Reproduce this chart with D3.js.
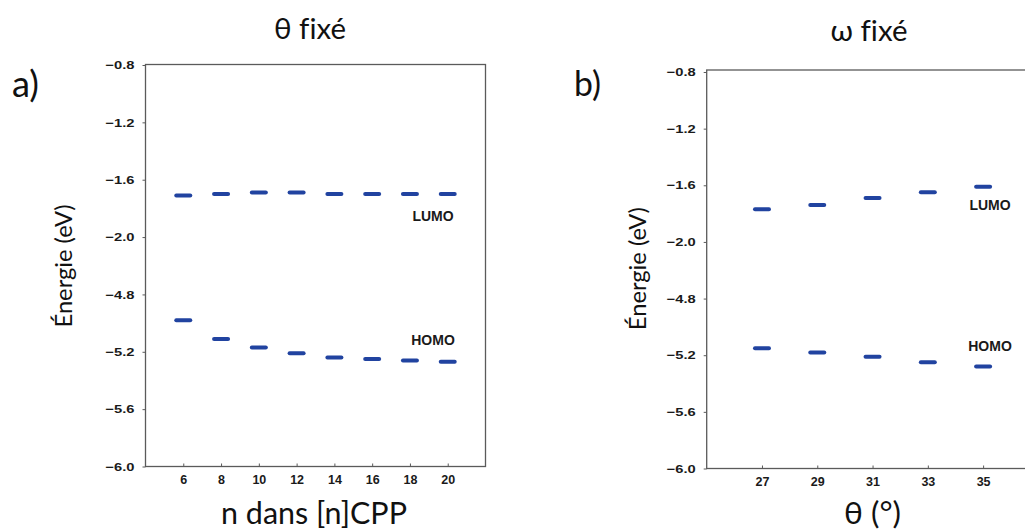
<!DOCTYPE html>
<html><head><meta charset="utf-8">
<script src="https://cdn.jsdelivr.net/npm/d3@7"></script>
<style>body{margin:0;background:#fff;} svg{display:block} text{font-variant-ligatures:none;font-feature-settings:"liga" 0;}</style>
</head><body>
<svg id="chart" width="1025" height="531"></svg>
<script>
// ---- data ----
const nValues = [6, 8, 10, 12, 14, 16, 18, 20];
const lumoA = [-1.71, -1.70, -1.69, -1.69, -1.70, -1.70, -1.70, -1.70];
const homoA = [-4.98, -5.11, -5.17, -5.21, -5.24, -5.25, -5.26, -5.27];
const thetaValues = [27, 29, 31, 33, 35];
const lumoB = [-1.77, -1.74, -1.69, -1.65, -1.61];
const homoB = [-5.15, -5.18, -5.21, -5.25, -5.28];
const energyTicks = [-6.0, -5.6, -5.2, -4.8, -2.0, -1.6, -1.2, -0.8];
const energyBreaks = [-6.0, -4.8, -2.0, -0.8];
const orbitalNames = ["LUMO", "HOMO"];

const svg = d3.select("#chart");
svg.append("rect").attr("width", 1025).attr("height", 531).attr("fill", "#fff");

const titleFont = "Lato, 'Open Sans', 'Noto Sans', sans-serif";
const tickFont = "'Liberation Sans', Arial, sans-serif";
const dashColor = "#2143a0";

function fitText(sel, w) {
  const len = sel.node().getComputedTextLength();
  const fs = parseFloat(sel.attr("font-size"));
  sel.attr("font-size", fs * w / len);
}

function panel(cfg) {
  const g = svg.append("g");
  const x = d3.scaleLinear().domain(cfg.xDomain).range([cfg.left, cfg.right]);
  const step = (cfg.bottom - cfg.top) / 7;
  const y = d3.scaleLinear().domain(energyBreaks)
    .range([cfg.bottom, cfg.bottom - 3 * step, cfg.bottom - 4 * step, cfg.top]);

  // frame
  g.append("rect")
    .attr("x", cfg.left).attr("y", cfg.frameTop)
    .attr("width", cfg.right - cfg.left).attr("height", cfg.bottom - cfg.frameTop)
    .attr("fill", "none").attr("stroke", "#5a5a5a").attr("stroke-width", 1.3);

  // y axis
  const ya = g.append("g").attr("transform", `translate(${cfg.left},0)`)
    .call(d3.axisLeft(y).tickValues(energyTicks).tickSize(3).tickPadding(8)
      .tickFormat(d3.format(".1f")));
  ya.select(".domain").remove();
  ya.selectAll("line").attr("stroke", "#5a5a5a");
  ya.selectAll("text")
    .attr("font-family", tickFont).attr("font-weight", "bold")
    .attr("font-size", 11.5).attr("fill", "#1a1a1a")
    .attr("textLength", 29).attr("lengthAdjust", "spacingAndGlyphs");

  // x axis
  const xa = g.append("g").attr("transform", `translate(0,${cfg.bottom})`)
    .call(d3.axisBottom(x).tickValues(cfg.cats).tickSize(-3).tickPadding(9)
      .tickFormat(d3.format("d")));
  xa.select(".domain").remove();
  xa.selectAll("line").attr("stroke", "#5a5a5a");
  xa.selectAll("text")
    .attr("font-family", tickFont).attr("font-weight", "bold")
    .attr("font-size", 12.5).attr("fill", "#1a1a1a");

  // level dashes
  [cfg.lumo, cfg.homo].forEach(series => {
    g.append("g").selectAll("line").data(series).join("line")
      .attr("x1", (d, i) => x(cfg.cats[i]) - 7)
      .attr("x2", (d, i) => x(cfg.cats[i]) + 7)
      .attr("y1", d => y(d)).attr("y2", d => y(d))
      .attr("stroke", dashColor).attr("stroke-width", 4)
      .attr("stroke-linecap", "round");
  });

  // orbital labels
  orbitalNames.forEach((name, i) => {
    g.append("text").attr("x", cfg.labelX).attr("y", cfg.labelY[i])
      .attr("text-anchor", "middle")
      .attr("font-family", tickFont).attr("font-weight", "bold")
      .attr("font-size", 14).attr("fill", "#1a1a1a").text(name);
  });

  // title
  const t = g.append("text").attr("x", cfg.titleX).attr("y", cfg.titleY)
    .attr("text-anchor", "middle").attr("font-family", titleFont)
    .attr("font-size", 24).attr("fill", "#111").text(cfg.title);
  fitText(t, cfg.titleW);

  // panel letter
  const p = g.append("text").attr("x", cfg.letterX).attr("y", cfg.letterY)
    .attr("font-family", titleFont).attr("font-size", 28).attr("fill", "#111")
    .text(cfg.letter);
  fitText(p, 27);

  // y label
  const yl = g.append("text")
    .attr("transform", `translate(${cfg.yLabelX},${cfg.yLabelY}) rotate(-90)`)
    .attr("text-anchor", "middle").attr("font-family", titleFont)
    .attr("font-size", 22).attr("fill", "#111").text("Énergie (eV)");
  fitText(yl, 123);

  // x label
  const xl = g.append("text").attr("x", cfg.xLabelX).attr("y", 524)
    .attr("text-anchor", "middle").attr("font-family", titleFont)
    .attr("font-size", 30).attr("fill", "#111").text(cfg.xLabel);
  fitText(xl, cfg.xLabelW);
}

panel({
  cats: nValues, lumo: lumoA, homo: homoA, xDomain: [4, 22],
  left: 145.5, right: 485.5, top: 65, frameTop: 64.5, bottom: 466.5,
  labelX: 433, labelY: [220.5, 345],
  title: "θ fixé", titleX: 310, titleY: 39, titleW: 72,
  letter: "a)", letterX: 12, letterY: 96.5,
  yLabelX: 71.5, yLabelY: 266,
  xLabel: "n dans [n]CPP", xLabelX: 314, xLabelW: 186
});

panel({
  cats: thetaValues, lumo: lumoB, homo: homoB, xDomain: [25, 37],
  left: 706.7, right: 1038.4, top: 72, frameTop: 70, bottom: 468.5,
  labelX: 990, labelY: [210, 350.5],
  title: "ω fixé", titleX: 869, titleY: 40.5, titleW: 77,
  letter: "b)", letterX: 574, letterY: 96,
  yLabelX: 645.5, yLabelY: 268.7,
  xLabel: "θ (°)", xLabelX: 872.5, xLabelW: 57
});
</script>
</body></html>
